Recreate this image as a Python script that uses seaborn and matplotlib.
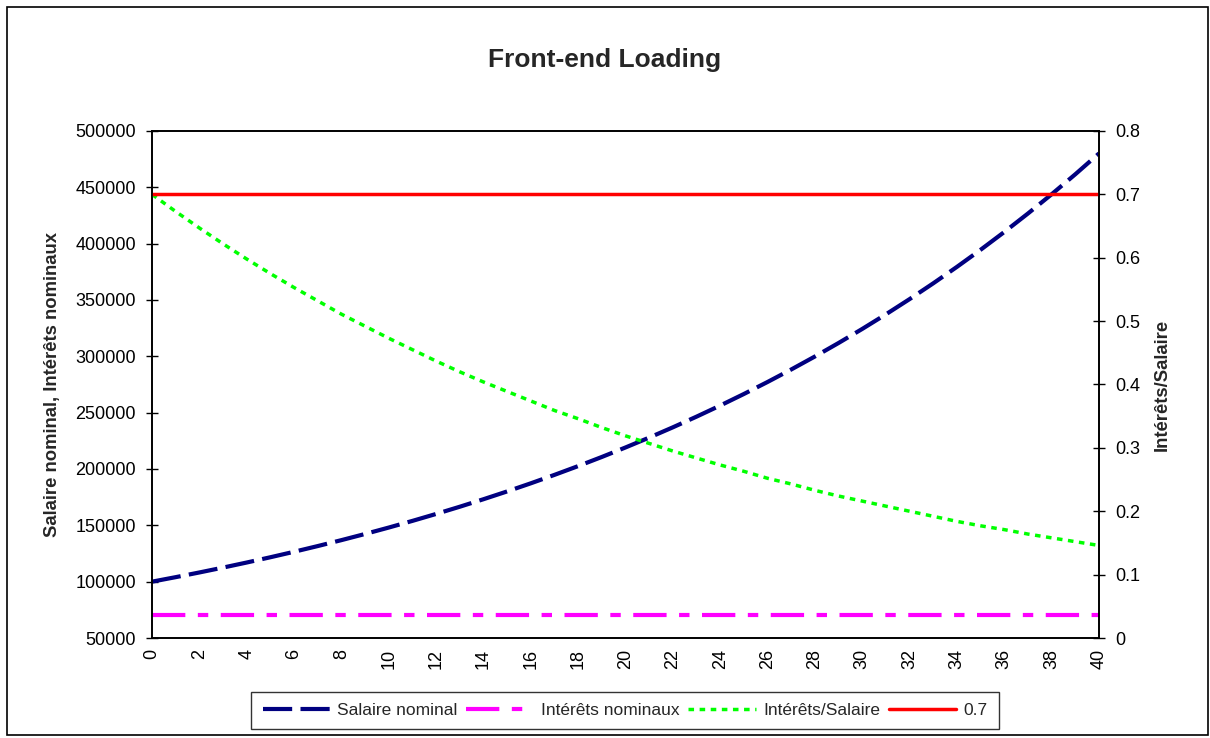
import matplotlib
matplotlib.use("Agg")
import matplotlib.pyplot as plt
import matplotlib.patches as mpatches
import seaborn as sns
import pandas as pd

# Years 0..40
years = list(range(41))

# Nominal salary
salaire_nominal = [
    100000, 104000, 108160, 112486, 116986, 121665, 126532, 131593, 136857, 142331,
    148024, 153945, 160103, 166507, 173168, 180094, 187298, 194790, 202582, 210685,
    219112, 227877, 236992, 246472, 256330, 266584, 277247, 288337, 299870, 311865,
    324340, 337313, 350806, 364838, 379432, 394609, 410393, 426809, 443881, 461637,
    480102,
]

# Nominal interest payment (constant)
interets_nominaux = [70000] * 41

# Interest / salary ratio
interets_salaire = [
    0.700, 0.673, 0.647, 0.622, 0.598, 0.575, 0.553, 0.532, 0.511, 0.492,
    0.473, 0.455, 0.437, 0.420, 0.404, 0.389, 0.374, 0.359, 0.346, 0.332,
    0.319, 0.307, 0.295, 0.284, 0.273, 0.263, 0.252, 0.243, 0.233, 0.224,
    0.216, 0.208, 0.200, 0.192, 0.184, 0.177, 0.171, 0.164, 0.158, 0.152,
    0.146,
]

# Threshold line
seuil = [0.7] * 41

left_ticks = list(range(50000, 500001, 50000))
right_ticks = [0, 0.1, 0.2, 0.3, 0.4, 0.5, 0.6, 0.7, 0.8]
right_ticklabels = ["0", "0.1", "0.2", "0.3", "0.4", "0.5", "0.6", "0.7", "0.8"]

df = pd.DataFrame({
    "annee": years,
    "Salaire nominal": salaire_nominal,
    "Intérêts nominaux": interets_nominaux,
    "Intérêts/Salaire": interets_salaire,
    "0.7": seuil,
})

sns.set_theme(style="white")
plt.rcParams["font.family"] = ["Liberation Sans", "DejaVu Sans"]

fig = plt.figure(figsize=(12.1, 7.38), dpi=100)
ax = fig.add_axes([0.1256, 0.1355, 0.7827, 0.687])
ax2 = ax.twinx()

navy = "#000080"
magenta = "#FF00FF"
green = "#00FF00"
red = "#FF0000"

sns.lineplot(data=df, x="annee", y="Salaire nominal", ax=ax, color=navy,
             linewidth=3, label="Salaire nominal", legend=False)
ax.lines[-1].set_dashes([7, 2])
sns.lineplot(data=df, x="annee", y="Intérêts nominaux", ax=ax, color=magenta,
             linewidth=3, label="Intérêts nominaux", legend=False)
ax.lines[-1].set_dashes([8, 3, 2.5, 3])
sns.lineplot(data=df, x="annee", y="Intérêts/Salaire", ax=ax2, color=green,
             linewidth=2.5, label="Intérêts/Salaire", legend=False)
ax2.lines[-1].set_dashes([1.6, 1.6])
sns.lineplot(data=df, x="annee", y="0.7", ax=ax2, color=red,
             linewidth=2.5, label="0.7", legend=False)

ax.set_xlim(0, 40)
ax.set_ylim(50000, 500000)
ax2.set_ylim(0, 0.8)

ax.set_xticks(range(0, 41))
ax.set_xticklabels([str(v) if v % 2 == 0 else "" for v in range(0, 41)],
                   rotation=90, fontsize=13, color="black")
ax.set_yticks(left_ticks)
ax.set_yticklabels([str(v) for v in left_ticks], fontsize=13, color="black")
ax2.set_yticks(right_ticks)
ax2.set_yticklabels(right_ticklabels, fontsize=13, color="black")

ax.tick_params(axis="x", direction="inout", length=8, width=1, color="black", pad=4)
ax.tick_params(axis="y", direction="inout", length=9, width=1, color="black", pad=7, left=True)
ax2.tick_params(axis="y", direction="inout", length=9, width=1, color="black", pad=7, right=True)

for a in (ax, ax2):
    for s in a.spines.values():
        s.set_color("black")
        s.set_linewidth(1.2)
        s.set_visible(True)

ax.set_xlabel("")
ax.set_ylabel("Salaire nominal, Intérêts nominaux", fontsize=13.3, fontweight="bold", labelpad=10)
ax2.set_ylabel("Intérêts/Salaire", fontsize=13.3, fontweight="bold", labelpad=10)

fig.text(0.5, 0.919, "Front-end Loading", ha="center", va="center",
         fontsize=19, fontweight="bold")

# Legend combining both axes
h1, l1 = ax.get_legend_handles_labels()
h2, l2 = ax2.get_legend_handles_labels()
leg = fig.legend(h1 + h2, l1 + l2, loc="center", bbox_to_anchor=(0.5165, 0.0373),
                 ncol=4, frameon=True, fontsize=12.5, handlelength=3.9,
                 handletextpad=0.4, columnspacing=0.5, borderpad=0.65,
                 fancybox=False, edgecolor="black")
leg.get_frame().set_linewidth(1.0)

# Outer chart border
fig.patches.append(mpatches.Rectangle((0.006, 0.004), 0.992, 0.986, transform=fig.transFigure,
                                      fill=False, edgecolor="black", linewidth=1.2))

fig.savefig("out.png", dpi=100)
